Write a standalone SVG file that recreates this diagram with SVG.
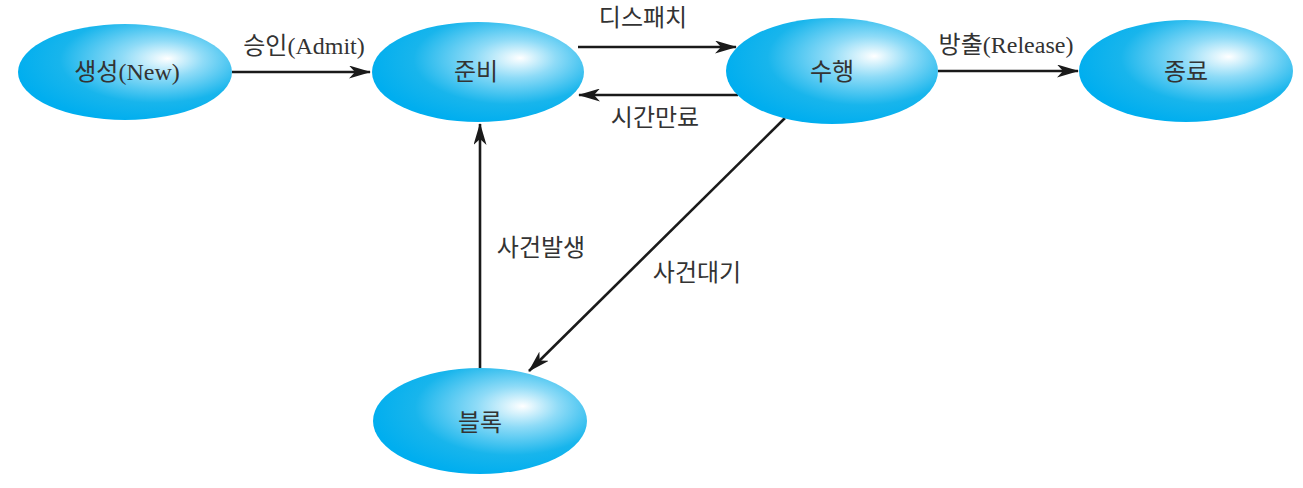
<svg xmlns="http://www.w3.org/2000/svg" width="1303" height="488" viewBox="0 0 1303 488">
<defs>
<radialGradient id="g" cx="0.62" cy="0.38" r="0.64" fx="0.7" fy="0.36">
<stop offset="0" stop-color="#ffffff"/>
<stop offset="0.3" stop-color="#8edbf7"/>
<stop offset="0.7" stop-color="#18b5ec"/>
<stop offset="1" stop-color="#00aeef"/>
</radialGradient>
<marker id="ah" viewBox="0 0 22 13" refX="21" refY="6.5" markerWidth="22" markerHeight="13" markerUnits="userSpaceOnUse" orient="auto">
<path d="M0,0 L22,6.5 L0,13 L6,6.5 Z" fill="#1a1a1a"/>
</marker>
<style>
.n{fill:url(#g);}
.t{font-family:"Liberation Serif","Noto Sans CJK KR",serif;font-size:24px;fill:#333;text-anchor:middle;dominant-baseline:central;}
.c{stroke:#1a1a1a;stroke-width:2.6;fill:none;marker-end:url(#ah);}
</style>
</defs>
<rect width="1303" height="488" fill="#ffffff"/>
<g id="connectors">
<line class="c" x1="232" y1="72" x2="370" y2="72"/>
<line class="c" x1="578" y1="47" x2="736" y2="47"/>
<line class="c" x1="738" y1="95" x2="579" y2="95"/>
<line class="c" x1="938" y1="71" x2="1078" y2="71"/>
<line class="c" x1="480" y1="368" x2="480" y2="124"/>
<line class="c" x1="785" y1="118" x2="529" y2="371"/>
<text class="t" x="304" y="46">승인(Admit)</text>
<text class="t" x="643" y="18">디스패치</text>
<text class="t" x="655" y="118">시간만료</text>
<text class="t" x="1006" y="45">방출(Release)</text>
<text class="t" x="541" y="248">사건발생</text>
<text class="t" x="697" y="273">사건대기</text>
</g>
<g id="new"><ellipse class="n" cx="125" cy="72" rx="107" ry="48"/><text class="t" x="127" y="72">생성(New)</text></g>
<g id="ready"><ellipse class="n" cx="478" cy="72" rx="106" ry="50"/><text class="t" x="476" y="72">준비</text></g>
<g id="running"><ellipse class="n" cx="832" cy="71" rx="106" ry="53"/><text class="t" x="832" y="72">수행</text></g>
<g id="exit"><ellipse class="n" cx="1186" cy="71" rx="107" ry="51"/><text class="t" x="1186" y="72">종료</text></g>
<g id="blocked"><ellipse class="n" cx="480" cy="421" rx="107" ry="53"/><text class="t" x="480" y="423">블록</text></g>
</svg>
